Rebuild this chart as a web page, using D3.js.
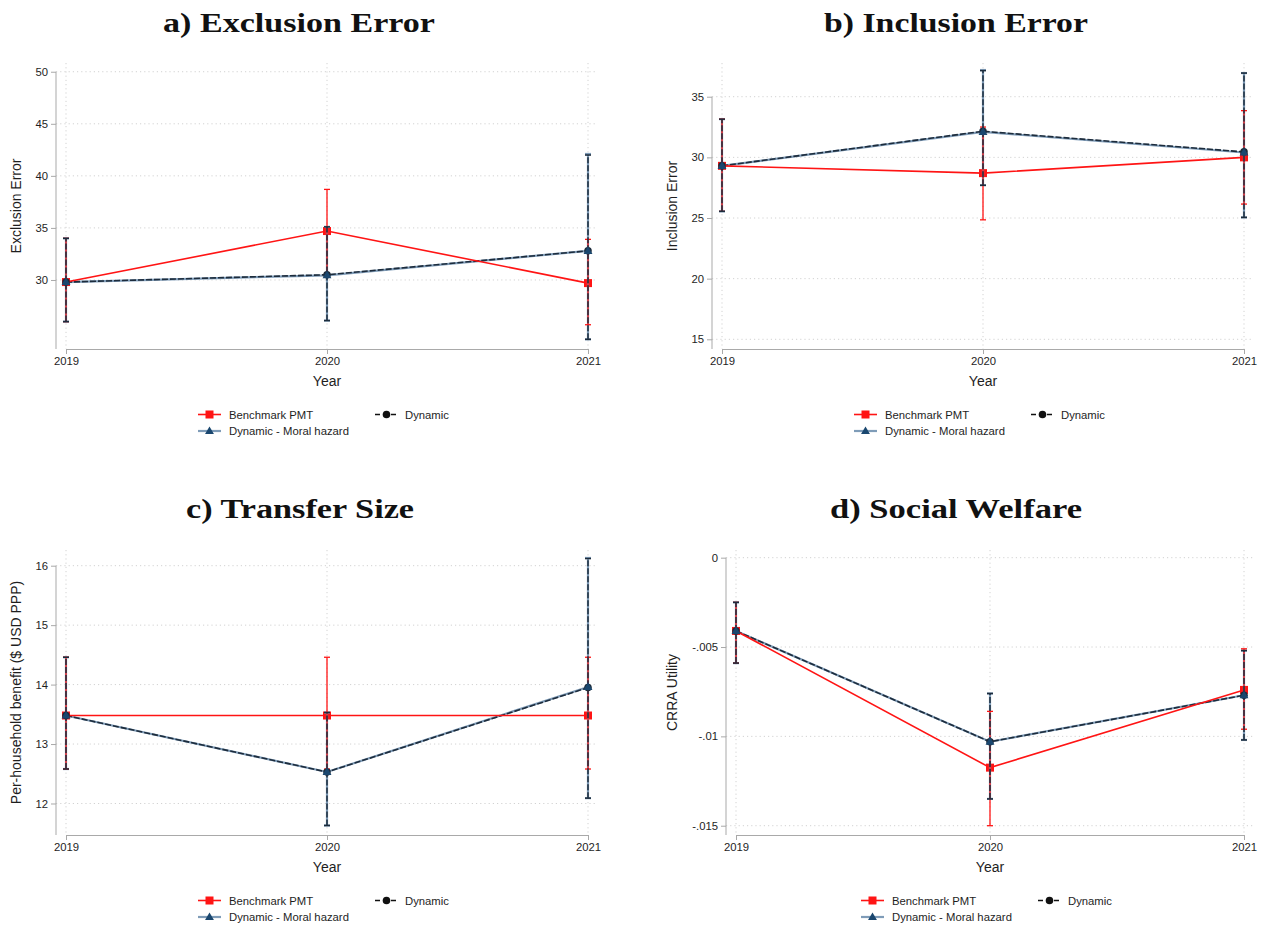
<!DOCTYPE html>
<html><head><meta charset="utf-8">
<script src="https://cdn.jsdelivr.net/npm/d3@7"></script>
<style>body{margin:0;background:#fff;} svg{display:block;}</style>
</head><body><svg id="chart" width="1269" height="929"></svg>
<script>
// ---------- DATA ----------
const years = [2019, 2020, 2021];
const legendLabels = ["Benchmark PMT", "Dynamic", "Dynamic - Moral hazard"];

// a) Exclusion Error
const exclBench = [29.8, 34.7, 29.7], exclBenchLo = [26.0, 30.7, 25.7], exclBenchHi = [34.0, 38.7, 33.9];
const exclDyn = [29.8, 30.5, 32.8], exclDynLo = [26.0, 26.1, 24.3], exclDynHi = [34.0, 35.1, 42.0];
const exclMH = [29.8, 30.45, 32.8], exclMHLo = [26.0, 26.1, 24.3], exclMHHi = [34.0, 35.1, 42.1];
const exclTicks = [30, 35, 40, 45, 50], exclTickLabels = ["30", "35", "40", "45", "50"];

// b) Inclusion Error
const inclBench = [29.3, 28.7, 30.0], inclBenchLo = [25.55, 24.85, 26.15], inclBenchHi = [33.15, 32.5, 33.85];
const inclDyn = [29.3, 32.15, 30.45], inclDynLo = [25.55, 27.7, 25.05], inclDynHi = [33.15, 37.15, 36.95];
const inclMH = [29.3, 32.1, 30.4], inclMHLo = [25.55, 27.7, 25.05], inclMHHi = [33.15, 37.2, 36.95];
const inclTicks = [15, 20, 25, 30, 35], inclTickLabels = ["15", "20", "25", "30", "35"];

// c) Transfer Size
const transBench = [13.48, 13.48, 13.48], transBenchLo = [12.58, 12.58, 12.58], transBenchHi = [14.46, 14.46, 14.46];
const transDyn = [13.48, 12.53, 13.95], transDynLo = [12.58, 11.63, 12.09], transDynHi = [14.46, 13.53, 16.12];
const transMH = [13.48, 12.53, 13.96], transMHLo = [12.58, 11.63, 12.09], transMHHi = [14.46, 13.53, 16.13];
const transTicks = [12, 13, 14, 15, 16], transTickLabels = ["12", "13", "14", "15", "16"];

// d) Social Welfare
const welfBench = [-0.0041, -0.01175, -0.0074], welfBenchLo = [-0.0059, -0.0150, -0.0096], welfBenchHi = [-0.0025, -0.0086, -0.0051];
const welfDyn = [-0.0041, -0.0103, -0.0077], welfDynLo = [-0.0059, -0.0135, -0.0102], welfDynHi = [-0.0025, -0.0076, -0.0052];
const welfMH = [-0.0041, -0.0103, -0.0077], welfMHLo = [-0.0059, -0.0135, -0.0102], welfMHHi = [-0.0025, -0.0076, -0.0052];
const welfTicks = [-0.015, -0.01, -0.005, 0], welfTickLabels = ["-.015", "-.01", "-.005", "0"];

// ---------- STYLE ----------
const RED = "#ff1414", NAVY = "#1a476f", DARK = "#1d2c3c", LIGHT = "#7f9cb8";
const AXIS = "#a9a9a9", GRID = "#d2d2d2", TXT = "#1e1e1e";
const SANS = "'Liberation Sans', Arial, Helvetica, sans-serif";
const SERIF = "'Liberation Serif', 'Times New Roman', serif";

const svg = d3.select("#chart");

const panels = [
  { title: "a) Exclusion Error", tx: 299, ty: 31.5, tlen: 272, ytitle: "Exclusion Error", ytx: 21,
    x0: 66, x1: 588, axisX: 56, right: 597, top: 63, bottom: 349, domain: [23.37, 50.84],
    ticks: exclTicks, labels: exclTickLabels,
    bench: [exclBench, exclBenchLo, exclBenchHi], dyn: [exclDyn, exclDynLo, exclDynHi], mh: [exclMH, exclMHLo, exclMHHi] },
  { title: "b) Inclusion Error", tx: 956, ty: 31.5, tlen: 264, ytitle: "Inclusion Error", ytx: 677,
    x0: 722, x1: 1244, axisX: 712, right: 1253, top: 63, bottom: 349, domain: [14.2, 37.78],
    ticks: inclTicks, labels: inclTickLabels,
    bench: [inclBench, inclBenchLo, inclBenchHi], dyn: [inclDyn, inclDynLo, inclDynHi], mh: [inclMH, inclMHLo, inclMHHi] },
  { title: "c) Transfer Size", tx: 300, ty: 518, tlen: 228, ytitle: "Per-household benefit ($ USD PPP)", ytx: 21,
    x0: 66, x1: 588, axisX: 56, right: 597, top: 550, bottom: 835, domain: [11.47, 16.264],
    ticks: transTicks, labels: transTickLabels,
    bench: [transBench, transBenchLo, transBenchHi], dyn: [transDyn, transDynLo, transDynHi], mh: [transMH, transMHLo, transMHHi] },
  { title: "d) Social Welfare", tx: 956, ty: 518, tlen: 252, ytitle: "CRRA Utility", ytx: 677,
    x0: 736, x1: 1244, axisX: 726, right: 1253, top: 550, bottom: 835, domain: [-0.01552, 0.00043],
    ticks: welfTicks, labels: welfTickLabels,
    bench: [welfBench, welfBenchLo, welfBenchHi], dyn: [welfDyn, welfDynLo, welfDynHi], mh: [welfMH, welfMHLo, welfMHHi] }
];

function drawPanel(p) {
  const g = svg.append("g");
  const x = d3.scaleLinear().domain([years[0], years[years.length - 1]]).range([p.x0, p.x1]);
  const y = d3.scaleLinear().domain(p.domain).range([p.bottom, p.top]);

  // title
  g.append("text").attr("x", p.tx).attr("y", p.ty).attr("text-anchor", "middle")
    .attr("font-family", SERIF).attr("font-weight", "bold").attr("font-size", 28)
    .attr("textLength", p.tlen).attr("lengthAdjust", "spacingAndGlyphs")
    .attr("fill", "#111").text(p.title);

  // grid
  g.append("g").selectAll("line").data(p.ticks).join("line")
    .attr("x1", p.axisX).attr("x2", p.right).attr("y1", d => y(d)).attr("y2", d => y(d))
    .attr("stroke", GRID).attr("stroke-width", 1).attr("stroke-dasharray", "1.2,3");
  g.append("g").selectAll("line").data(years).join("line")
    .attr("x1", d => x(d)).attr("x2", d => x(d)).attr("y1", p.top).attr("y2", p.bottom)
    .attr("stroke", GRID).attr("stroke-width", 1).attr("stroke-dasharray", "1.2,3");

  // y axis
  const yAx = g.append("g").attr("transform", `translate(${p.axisX},0)`)
    .call(d3.axisLeft(y).tickValues(p.ticks).tickFormat((d, i) => p.labels[i]).tickSize(5).tickPadding(3));
  yAx.select(".domain").attr("d", `M0,${y(d3.max(p.ticks))}V${p.bottom}`).attr("stroke", AXIS);
  yAx.selectAll(".tick line").attr("stroke", AXIS);
  yAx.selectAll("text").attr("font-family", SANS).attr("font-size", 11.3).attr("fill", TXT);

  // x axis
  const xAx = g.append("g").attr("transform", `translate(0,${p.bottom})`)
    .call(d3.axisBottom(x).tickValues(years).tickFormat(d3.format("d")).tickSize(5).tickSizeOuter(0).tickPadding(3));
  xAx.select(".domain").attr("stroke", AXIS);
  xAx.selectAll(".tick line").attr("stroke", AXIS);
  xAx.selectAll("text").attr("font-family", SANS).attr("font-size", 11.3).attr("fill", TXT);

  // axis titles
  g.append("text").attr("x", (p.x0 + p.x1) / 2).attr("y", p.bottom + 37).attr("text-anchor", "middle")
    .attr("font-family", SANS).attr("font-size", 14).attr("fill", TXT).text("Year");
  g.append("text").attr("transform", `translate(${p.ytx},${(p.top + p.bottom) / 2}) rotate(-90)`)
    .attr("text-anchor", "middle").attr("font-family", SANS).attr("font-size", 14).attr("fill", TXT).text(p.ytitle);

  const line = vals => d3.line().x((d, i) => x(years[i])).y(d => y(d))(vals);

  function ci(lo, hi, color, width, dash) {
    const c = g.append("g").attr("stroke", color).attr("stroke-width", width).attr("fill", "none");
    years.forEach((yr, i) => {
      const cx = x(yr);
      const v = c.append("line").attr("x1", cx).attr("x2", cx).attr("y1", y(lo[i])).attr("y2", y(hi[i]));
      if (dash) v.attr("stroke-dasharray", dash);
      c.append("line").attr("x1", cx - 3).attr("x2", cx + 3).attr("y1", y(lo[i])).attr("y2", y(lo[i]));
      c.append("line").attr("x1", cx - 3).attr("x2", cx + 3).attr("y1", y(hi[i])).attr("y2", y(hi[i]));
    });
  }

  // lines
  g.append("path").attr("d", line(p.mh[0])).attr("fill", "none").attr("stroke", LIGHT).attr("stroke-width", 2.2);
  g.append("path").attr("d", line(p.dyn[0])).attr("fill", "none").attr("stroke", DARK).attr("stroke-width", 1.6).attr("stroke-dasharray", "6,2");
  g.append("path").attr("d", line(p.bench[0])).attr("fill", "none").attr("stroke", RED).attr("stroke-width", 1.6);

  // benchmark markers
  g.append("g").selectAll("rect").data(p.bench[0]).join("rect")
    .attr("x", (d, i) => x(years[i]) - 4).attr("y", d => y(d) - 4).attr("width", 8).attr("height", 8).attr("fill", RED);

  // confidence intervals
  ci(p.mh[1], p.mh[2], LIGHT, 2.2, null);
  ci(p.bench[1], p.bench[2], RED, 1.3, null);
  ci(p.dyn[1], p.dyn[2], DARK, 1.5, "6,2");

  // dynamic markers (circles) and moral hazard markers (triangles)
  g.append("g").selectAll("circle").data(p.dyn[0]).join("circle")
    .attr("cx", (d, i) => x(years[i])).attr("cy", d => y(d)).attr("r", 3.8).attr("fill", DARK);
  const tri = d3.symbol().type(d3.symbolTriangle).size(34);
  g.append("g").selectAll("path").data(p.mh[0]).join("path")
    .attr("transform", (d, i) => `translate(${x(years[i])},${y(d) + 0.5})`).attr("d", tri).attr("fill", NAVY);

  // legend
  const lx = (p.x0 + p.x1) / 2 - 129, ly = p.bottom + 65.5;
  const leg = g.append("g").attr("font-family", SANS).attr("font-size", 11.3).attr("fill", TXT);
  leg.append("line").attr("x1", lx).attr("x2", lx + 23).attr("y1", ly).attr("y2", ly).attr("stroke", RED).attr("stroke-width", 1.6);
  leg.append("rect").attr("x", lx + 7.5).attr("y", ly - 4).attr("width", 8).attr("height", 8).attr("fill", RED);
  leg.append("text").attr("x", lx + 31).attr("y", ly + 4).text(legendLabels[0]);
  const dx = lx + 177;
  leg.append("line").attr("x1", dx).attr("x2", dx + 23).attr("y1", ly).attr("y2", ly).attr("stroke", "#111").attr("stroke-width", 1.3).attr("stroke-dasharray", "5,3");
  leg.append("circle").attr("cx", dx + 11.5).attr("cy", ly).attr("r", 3.8).attr("fill", "#111");
  leg.append("text").attr("x", dx + 30).attr("y", ly + 4).text(legendLabels[1]);
  const my = ly + 16.5;
  leg.append("line").attr("x1", lx).attr("x2", lx + 23).attr("y1", my).attr("y2", my).attr("stroke", LIGHT).attr("stroke-width", 2.2);
  leg.append("path").attr("transform", `translate(${lx + 11.5},${my + 0.5})`).attr("d", tri).attr("fill", NAVY);
  leg.append("text").attr("x", lx + 31).attr("y", my + 4).text(legendLabels[2]);
}

panels.forEach(drawPanel);
</script>
</body></html>
